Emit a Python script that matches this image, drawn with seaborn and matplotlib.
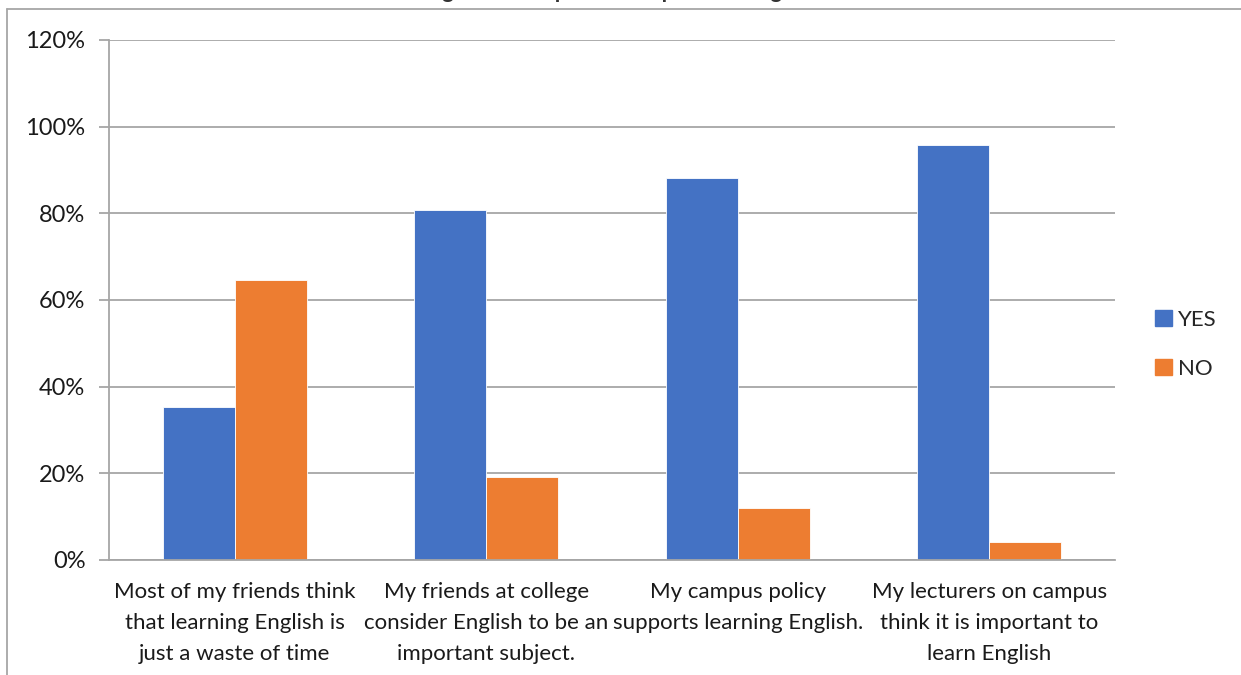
import matplotlib
matplotlib.use("Agg")
import matplotlib.pyplot as plt
from matplotlib.lines import Line2D
from matplotlib.ticker import FuncFormatter, MultipleLocator
import pandas as pd
import seaborn as sns

categories = [
    "Most of my friends think\nthat learning English is\njust a waste of time",
    "My friends at college\nconsider English to be an\nimportant subject.",
    "My campus policy\nsupports learning English.",
    "My lecturers on campus\nthink it is important to\nlearn English",
]
yes_values = [35.4, 80.8, 88.1, 95.8]
no_values = [64.6, 19.2, 11.9, 4.2]
series_names = ["YES", "NO"]
series_colors = ["#4472C4", "#ED7D31"]
title_text = "Figure 1: People's Perception of English"

df = pd.DataFrame({
    "category": categories * 2,
    "answer": [series_names[0]] * len(categories) + [series_names[1]] * len(categories),
    "share": yes_values + no_values,
})

sns.set_theme(style="white")
plt.rcParams["font.family"] = ["Lato", "DejaVu Sans"]

W, H = 1241, 675
fig = plt.figure(figsize=(W / 100, H / 100), dpi=100)
ax = fig.add_axes([109 / W, 1 - 560 / H, (1115 - 109) / W, (560 - 40) / H])

sns.barplot(
    data=df, x="category", y="share", hue="answer",
    palette=series_colors, width=0.573, saturation=1.0,
    edgecolor="white", linewidth=0.6, ax=ax, legend=True,
)

grid_c = "#A6A6A6"
ax.set_ylim(0, 120)
ax.set_xlim(-0.5, len(categories) - 0.5)
ax.yaxis.set_major_locator(MultipleLocator(20))
ax.yaxis.set_major_formatter(FuncFormatter(lambda v, p: f"{v:.0f}%"))
ax.grid(axis="y", color=grid_c, linewidth=1.3)
ax.set_axisbelow(True)
for s in ["top", "right"]:
    ax.spines[s].set_visible(False)
for s in ["left", "bottom"]:
    ax.spines[s].set_color(grid_c)
    ax.spines[s].set_linewidth(1.3)

ax.set_xlabel("")
ax.set_ylabel("")
ax.set_xticks(range(len(categories)))
ax.set_xticklabels(categories, fontsize=16, color="#1a1a1a", linespacing=1.68)
ax.tick_params(axis="x", length=0, pad=16)
# category boundary tick marks
ax.set_xticks([i - 0.5 for i in range(len(categories) + 1)], minor=True)
ax.tick_params(axis="x", which="minor", direction="out", length=7, color=grid_c, width=1.3)
ax.tick_params(axis="y", direction="out", length=7, color=grid_c, width=1.3,
               labelsize=17, labelcolor="#1a1a1a", pad=10, left=True)

handles = [plt.Rectangle((0, 0), 1, 1, color=c) for c in series_colors]
ax.legend(handles, series_names, loc="center left", bbox_to_anchor=(1.02, 0.415),
          frameon=False, fontsize=16, handlelength=0.75, handleheight=0.75,
          handletextpad=0.3, labelspacing=1.3)

# chart frame
fig.add_artist(Line2D([7 / W, 7 / W], [0, 1 - 9 / H], transform=fig.transFigure,
                      color=grid_c, linewidth=1.3))
fig.add_artist(Line2D([7 / W, 1], [1 - 9 / H, 1 - 9 / H], transform=fig.transFigure,
                      color=grid_c, linewidth=1.3))
fig.text(0.5, 1 + 2 / H, title_text, ha="center", va="baseline", fontsize=16,
         color="#333333", fontweight="bold")

fig.savefig("out.png", dpi=100, facecolor="white")
